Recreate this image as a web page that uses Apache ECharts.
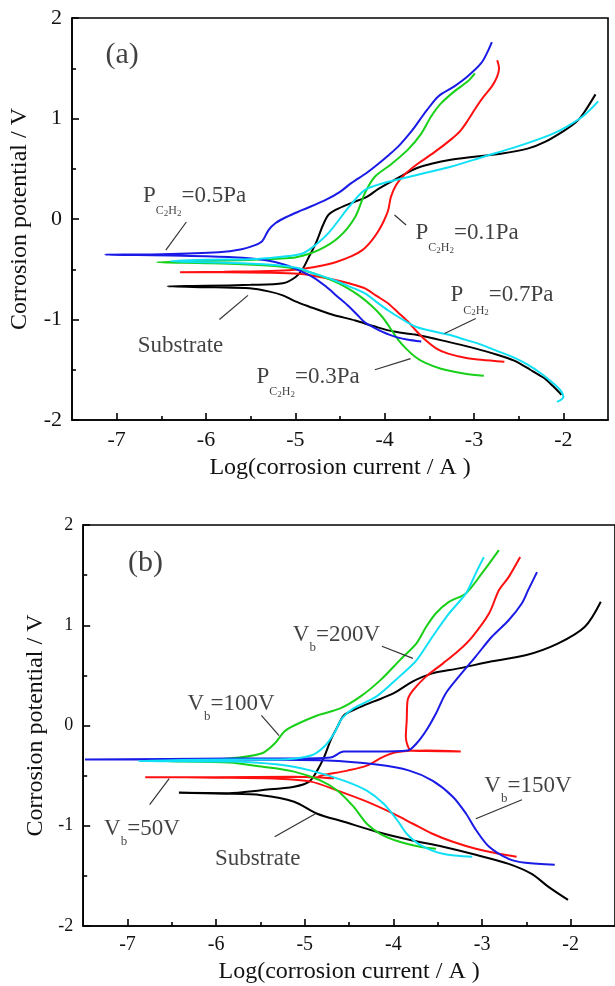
<!DOCTYPE html>
<html>
<head>
<meta charset="utf-8">
<script src="https://cdn.jsdelivr.net/npm/echarts@6/dist/echarts.min.js"></script>
<style>
  html, body { margin: 0; padding: 0; background: #fff; }
  #main { width: 615px; height: 986px; }
</style>
</head>
<body>
<div id="main"></div>
<script>
// ---- data: [log(i), E] pairs, cathodic end -> Ecorr tip -> anodic end ----
// panel (a): C2H2 pressure
const subA = [[-2.02,-1.75],[-2.12,-1.66],[-2.22,-1.58],[-2.37,-1.50],[-2.55,-1.41],[-2.74,-1.35],[-3.02,-1.28],[-3.3,-1.22],[-3.66,-1.15],[-3.9,-1.12],[-4.11,-1.07],[-4.33,-1.01],[-4.59,-0.95],[-4.85,-0.87],[-5.0,-0.82],[-5.14,-0.76],[-5.3,-0.72],[-5.51,-0.69],[-5.9,-0.68],[-6.43,-0.67],
  [-6.0,-0.665],[-5.5,-0.655],[-5.14,-0.64],[-5.0,-0.58],[-4.92,-0.50],[-4.85,-0.38],[-4.77,-0.24],[-4.69,-0.06],[-4.63,0.04],[-4.55,0.09],[-4.37,0.16],[-4.2,0.22],[-4.07,0.30],[-3.89,0.39],[-3.63,0.51],[-3.26,0.59],[-2.7,0.65],[-2.4,0.70],[-2.2,0.77],[-1.99,0.88],[-1.85,0.97],[-1.76,1.07],[-1.64,1.24]];
const p01 = [[-2.66,-1.42],[-2.92,-1.40],[-3.1,-1.38],[-3.29,-1.34],[-3.42,-1.29],[-3.55,-1.20],[-3.65,-1.11],[-3.74,-1.02],[-3.85,-0.93],[-3.96,-0.84],[-4.1,-0.76],[-4.22,-0.69],[-4.4,-0.64],[-4.59,-0.60],[-4.8,-0.565],[-4.96,-0.545],[-5.3,-0.535],[-5.8,-0.53],[-6.29,-0.53],
  [-5.8,-0.525],[-5.2,-0.515],[-4.95,-0.50],[-4.74,-0.47],[-4.55,-0.43],[-4.37,-0.37],[-4.25,-0.31],[-4.15,-0.22],[-4.07,-0.12],[-4.01,-0.02],[-3.96,0.09],[-3.93,0.22],[-3.87,0.34],[-3.78,0.44],[-3.63,0.55],[-3.45,0.66],[-3.26,0.79],[-3.15,0.88],[-3.07,0.98],[-2.97,1.12],[-2.89,1.22],[-2.80,1.32],[-2.74,1.42],[-2.72,1.50],[-2.74,1.58]];
const p03 = [[-2.89,-1.56],[-3.1,-1.54],[-3.37,-1.49],[-3.55,-1.43],[-3.66,-1.37],[-3.76,-1.29],[-3.85,-1.20],[-3.95,-1.07],[-4.03,-0.97],[-4.15,-0.86],[-4.29,-0.76],[-4.45,-0.67],[-4.59,-0.61],[-4.8,-0.54],[-4.96,-0.50],[-5.2,-0.47],[-5.6,-0.45],[-6.0,-0.44],[-6.55,-0.43],
  [-6.2,-0.42],[-5.64,-0.41],[-5.2,-0.395],[-4.99,-0.38],[-4.74,-0.31],[-4.51,-0.18],[-4.33,0.02],[-4.22,0.26],[-4.11,0.42],[-3.92,0.55],[-3.74,0.69],[-3.59,0.85],[-3.48,1.02],[-3.37,1.15],[-3.22,1.27],[-3.07,1.37],[-2.99,1.45]];
const p05 = [[-3.59,-1.22],[-3.75,-1.20],[-3.85,-1.18],[-3.95,-1.15],[-4.03,-1.12],[-4.12,-1.08],[-4.22,-1.03],[-4.31,-0.95],[-4.4,-0.87],[-4.53,-0.77],[-4.66,-0.67],[-4.8,-0.58],[-4.96,-0.51],[-5.1,-0.46],[-5.33,-0.41],[-5.7,-0.38],[-6.26,-0.365],[-7.13,-0.355],
  [-6.5,-0.35],[-5.86,-0.33],[-5.6,-0.30],[-5.45,-0.26],[-5.37,-0.22],[-5.3,-0.11],[-5.22,-0.04],[-5.1,0.02],[-4.92,0.09],[-4.66,0.19],[-4.5,0.27],[-4.37,0.36],[-4.2,0.46],[-4.07,0.55],[-3.95,0.64],[-3.85,0.72],[-3.75,0.82],[-3.66,0.92],[-3.58,1.02],[-3.53,1.08],[-3.40,1.22],[-3.22,1.32],[-3.07,1.42],[-2.92,1.55],[-2.85,1.66],[-2.80,1.76]];
const p07 = [[-2.07,-1.82],[-2.00,-1.77],[-2.02,-1.72],[-2.07,-1.67],[-2.16,-1.60],[-2.26,-1.53],[-2.4,-1.45],[-2.55,-1.38],[-2.75,-1.31],[-2.92,-1.25],[-3.1,-1.20],[-3.29,-1.15],[-3.5,-1.11],[-3.66,-1.07],[-3.8,-1.00],[-3.96,-0.91],[-4.1,-0.82],[-4.22,-0.74],[-4.4,-0.67],[-4.59,-0.60],[-4.8,-0.54],[-4.96,-0.49],[-5.2,-0.46],[-5.6,-0.44],[-6.0,-0.43],[-6.4,-0.42],
  [-6.0,-0.405],[-5.5,-0.40],[-5.2,-0.38],[-4.95,-0.35],[-4.85,-0.31],[-4.63,-0.14],[-4.4,0.12],[-4.22,0.29],[-4.0,0.36],[-3.63,0.44],[-3.26,0.52],[-2.89,0.62],[-2.52,0.72],[-2.14,0.84],[-1.96,0.92],[-1.77,1.03],[-1.61,1.17]];

// panel (b): bias voltage
const subB = [[-2.03,-1.74],[-2.25,-1.61],[-2.44,-1.48],[-2.70,-1.38],[-3.07,-1.29],[-3.44,-1.21],[-3.82,-1.14],[-4.19,-1.06],[-4.56,-0.96],[-4.86,-0.88],[-5.12,-0.76],[-5.49,-0.695],[-5.9,-0.68],[-6.42,-0.67],
  [-5.86,-0.675],[-5.49,-0.645],[-5.12,-0.61],[-4.95,-0.56],[-4.86,-0.45],[-4.78,-0.31],[-4.71,-0.15],[-4.63,-0.01],[-4.56,0.10],[-4.41,0.17],[-4.22,0.24],[-4.0,0.32],[-3.78,0.44],[-3.56,0.52],[-3.26,0.57],[-2.89,0.64],[-2.51,0.70],[-2.14,0.82],[-1.84,0.985],[-1.66,1.235]];
const v50 = [[-2.61,-1.31],[-2.81,-1.28],[-3.07,-1.23],[-3.33,-1.16],[-3.56,-1.08],[-3.78,-0.98],[-4.0,-0.88],[-4.30,-0.76],[-4.63,-0.65],[-4.93,-0.56],[-5.3,-0.53],[-6.0,-0.52],[-6.80,-0.515],
  [-6.0,-0.515],[-5.12,-0.51],[-4.67,-0.525],[-4.85,-0.515],[-4.82,-0.50],[-4.52,-0.45],[-4.30,-0.40],[-4.11,-0.31],[-3.95,-0.265],[-3.63,-0.25],[-3.24,-0.26],[-3.63,-0.255],[-3.80,-0.25],[-3.84,-0.20],[-3.86,-0.11],[-3.85,0.05],[-3.84,0.25],[-3.78,0.35],[-3.63,0.49],[-3.44,0.62],[-3.26,0.75],[-3.11,0.885],[-2.92,1.12],[-2.81,1.35],[-2.70,1.48],[-2.57,1.68]];
const v100 = [[-3.52,-1.23],[-3.70,-1.21],[-3.93,-1.16],[-4.15,-1.08],[-4.30,-0.98],[-4.45,-0.81],[-4.63,-0.65],[-4.82,-0.55],[-5.12,-0.46],[-5.49,-0.41],[-5.86,-0.37],[-6.6,-0.355],
  [-5.86,-0.33],[-5.49,-0.28],[-5.34,-0.18],[-5.23,-0.06],[-5.12,0.0],[-4.86,0.10],[-4.60,0.17],[-4.37,0.29],[-4.15,0.45],[-3.93,0.65],[-3.74,0.82],[-3.63,0.985],[-3.52,1.12],[-3.37,1.235],[-3.18,1.32],[-3.0,1.52],[-2.81,1.75]];
const v150 = [[-2.18,-1.39],[-2.51,-1.37],[-2.70,-1.33],[-2.92,-1.21],[-3.07,-1.04],[-3.18,-0.88],[-3.33,-0.71],[-3.56,-0.55],[-3.82,-0.45],[-4.19,-0.39],[-4.75,-0.35],[-5.86,-0.34],[-7.48,-0.34],
  [-5.86,-0.33],[-5.12,-0.33],[-4.71,-0.32],[-4.56,-0.26],[-4.19,-0.26],[-3.84,-0.25],[-3.74,-0.18],[-3.63,-0.05],[-3.52,0.12],[-3.41,0.32],[-3.26,0.49],[-3.07,0.69],[-2.89,0.885],[-2.70,1.05],[-2.55,1.22],[-2.48,1.35],[-2.38,1.53]];
const v200 = [[-3.11,-1.31],[-3.44,-1.28],[-3.70,-1.19],[-3.85,-1.08],[-3.96,-0.94],[-4.11,-0.78],[-4.30,-0.65],[-4.56,-0.55],[-4.93,-0.45],[-5.30,-0.39],[-5.86,-0.36],[-6.88,-0.355],
  [-5.86,-0.34],[-5.30,-0.34],[-4.93,-0.30],[-4.78,-0.21],[-4.67,-0.08],[-4.58,0.07],[-4.45,0.17],[-4.19,0.29],[-3.93,0.49],[-3.74,0.65],[-3.56,0.885],[-3.37,1.12],[-3.18,1.32],[-3.07,1.52],[-2.98,1.68]];

// tick labels
const xTicks = [-7, -6, -5, -4, -3, -2];
const xMinorTicks = [-6.5, -5.5, -4.5, -3.5, -2.5];

// series names / colours
const namesA = ['Substrate', '0.1Pa', '0.3Pa', '0.5Pa', '0.7Pa'];
const namesB = ['Substrate', '50V', '100V', '150V', '200V'];
const colors = ['#000000', '#ff1010', '#18d018', '#1a1ae6', '#10e0f5'];

// annotations: anchor = left edge / text centre, leader = [from, to]
const notesA = [
  { kind: 'p', text: '=0.5Pa', at: [-6.71, 0.23], leader: [[-6.22, -0.03], [-6.45, -0.31]] },
  { kind: 'p', text: '=0.1Pa', at: [-3.66, -0.14], leader: [[-3.76, -0.06], [-3.89, 0.04]] },
  { kind: 'p', text: '=0.7Pa', at: [-3.27, -0.76], leader: [[-2.98, -0.99], [-3.33, -1.14]] },
  { kind: 'p', text: '=0.3Pa', at: [-5.44, -1.57], leader: [[-4.11, -1.50], [-3.71, -1.39]] },
  { kind: 't', text: 'Substrate', at: [-6.77, -1.26], leader: [[-5.85, -1.00], [-5.53, -0.76]] },
  { kind: 'big', text: '(a)', at: [-7.13, 1.63] }
];
const notesB = [
  { kind: 'v', text: '=200V', at: [-5.14, 0.90], leader: [[-4.13, 0.79], [-3.78, 0.67]] },
  { kind: 'v', text: '=100V', at: [-6.33, 0.21], leader: [[-5.49, 0.10], [-5.29, -0.10]] },
  { kind: 'v', text: '=50V', at: [-7.27, -1.03], leader: [[-6.75, -0.79], [-6.53, -0.53]] },
  { kind: 'v', text: '=150V', at: [-2.98, -0.60], leader: [[-2.55, -0.74], [-3.07, -0.93]] },
  { kind: 't', text: 'Substrate', at: [-6.02, -1.33], leader: [[-5.34, -1.11], [-4.88, -0.88]] },
  { kind: 'big', text: '(b)', at: [-7.0, 1.62] }
];

const FONT = '"Liberation Serif", "Times New Roman", serif';
const rich = {
  m: { fontFamily: FONT, fontSize: 23, height: 24, verticalAlign: 'top', color: '#111' },
  s: { fontFamily: FONT, fontSize: 12, height: 12, padding: [21, 0, 0, 0], verticalAlign: 'top', color: '#111' },
  ss: { fontFamily: FONT, fontSize: 9, height: 9, padding: [25, 0, 0, 0], verticalAlign: 'top', color: '#111' },
  b: { fontFamily: FONT, fontSize: 13, height: 13, padding: [18, 0, 0, 0], verticalAlign: 'top', color: '#111' },
  big: { fontFamily: FONT, fontSize: 30, color: '#111' }
};

function noteLabel(n) {
  if (n.kind === 'p') return { text: '{m|P}{s|C}{ss|2}{s|H}{ss|2}{m|' + n.text + '}', dy: 5 };
  if (n.kind === 'v') return { text: '{m|V}{b|b}{m|' + n.text + '}', dy: 3.5 };
  if (n.kind === 'big') return { text: '{big|' + n.text + '}', dy: 0 };
  return { text: '{m|' + n.text + '}', dy: 0 };
}

function axesFor(g, tickSize, yTickSize, xGap, yGap) {
  const line = { color: '#000', width: 1.6 };
  const x = {
    gridIndex: g, type: 'value', min: -7.5, max: -1.5, position: 'bottom',
    axisLine: { show: true, onZero: false, lineStyle: line },
    axisTick: { show: true, inside: true, length: 7, customValues: xTicks, lineStyle: line },
    axisLabel: { customValues: xTicks, fontFamily: FONT, fontSize: tickSize, color: '#111', margin: 9 },
    splitLine: { show: false },
    name: 'Log(corrosion current / A )', nameLocation: 'middle', nameGap: xGap,
    nameTextStyle: { fontFamily: FONT, fontSize: 24, color: '#111' }
  };
  const xMinor = {
    gridIndex: g, type: 'value', min: -7.5, max: -1.5, position: 'bottom',
    axisLine: { show: false, onZero: false },
    axisTick: { show: true, inside: true, length: 4, customValues: xMinorTicks, lineStyle: line },
    axisLabel: { show: false }, splitLine: { show: false }
  };
  const y = {
    gridIndex: g, type: 'value', min: -2, max: 2, interval: 1, position: 'left',
    axisLine: { show: true, onZero: false, lineStyle: line },
    axisTick: { show: true, inside: true, length: 7, lineStyle: line },
    minorTick: { show: true, splitNumber: 2, length: 4, lineStyle: line },
    axisLabel: { fontFamily: FONT, fontSize: yTickSize, color: '#111', margin: 10 },
    splitLine: { show: false },
    name: 'Corrosion potential / V', nameLocation: 'middle', nameGap: yGap,
    nameTextStyle: { fontFamily: FONT, fontSize: 24, color: '#111' }
  };
  return { x: [x, xMinor], y };
}

function curveSeries(names, curves, xi, yi) {
  return curves.map((d, i) => ({
    name: names[i], type: 'line', xAxisIndex: xi, yAxisIndex: yi,
    data: d, showSymbol: false, smooth: 0.3, z: 3,
    lineStyle: { color: colors[i], width: 2 }, itemStyle: { color: colors[i] }
  }));
}

function noteSeries(notes, xi, yi) {
  return [{
    type: 'lines', coordinateSystem: 'cartesian2d', xAxisIndex: xi, yAxisIndex: yi,
    silent: true, z: 4,
    lineStyle: { color: '#333', width: 1.2, opacity: 1 },
    data: notes.filter(n => n.leader).map(n => ({ coords: n.leader }))
  }, {
    type: 'scatter', xAxisIndex: xi, yAxisIndex: yi, silent: true, z: 5,
    symbolSize: 1, itemStyle: { color: 'rgba(0,0,0,0)' },
    data: notes.map(n => {
      const l = noteLabel(n);
      return {
        value: n.at,
        label: { show: true, position: 'right', distance: 0, offset: [0, l.dy], formatter: l.text, rich: rich }
      };
    })
  }];
}

const axA = axesFor(0, 22, 22, 36, 40);
const axB = axesFor(1, 20, 18, 34, 31);

const chart = echarts.init(document.getElementById('main'), null, { renderer: 'canvas' });
chart.setOption({
  animation: false,
  backgroundColor: '#fff',
  grid: [
    { left: 68, top: 18, width: 540, height: 402, show: true, borderColor: '#000', borderWidth: 1.6, containLabel: false },
    { left: 83.2, top: 525, width: 537.6, height: 401, show: true, borderColor: '#000', borderWidth: 1.6, containLabel: false }
  ],
  xAxis: [...axA.x, ...axB.x],
  yAxis: [axA.y, axB.y],
  series: [
    ...curveSeries(namesA, [subA, p01, p03, p05, p07], 0, 0),
    ...noteSeries(notesA, 0, 0),
    ...curveSeries(namesB, [subB, v50, v100, v150, v200], 2, 1),
    ...noteSeries(notesB, 2, 1)
  ]
});
</script>
</body>
</html>
